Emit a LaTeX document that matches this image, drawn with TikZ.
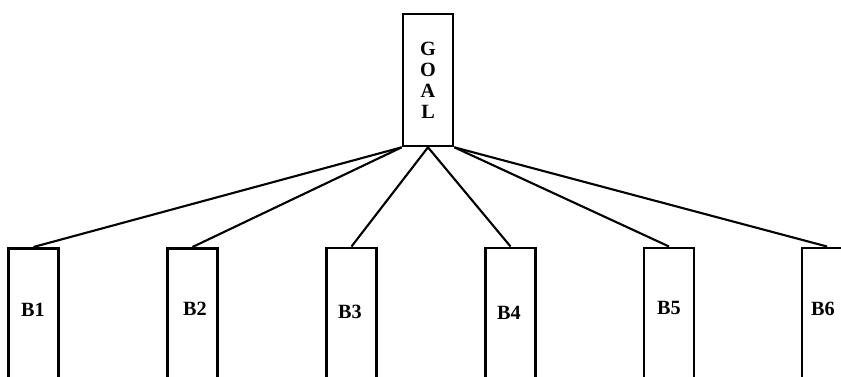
\documentclass[tikz,border=0pt]{standalone}
\usepackage{fontspec}
\setmainfont{Liberation Serif}
\begin{document}
\begin{tikzpicture}[x=0.02cm,y=-0.02cm,
  boxnode/.style={draw=black, line width=1.5pt, rectangle, minimum width=1cm, inner sep=0pt},
  leaf/.style={boxnode, minimum height=3cm},
  lbl/.style={font=\fontsize{11.5}{13}\selectfont\bfseries, inner sep=0pt},
  link/.style={draw=black, line width=1.2pt}]
\useasboundingbox (0,0) rectangle (841,376);
\clip (0,0) rectangle (841,376);
\fill[white] (0,0) rectangle (841,376);
\node[boxnode, minimum height=2.64cm] (goal) at (428,80) {};
\node[lbl, align=center, font=\fontsize{11.5}{12}\selectfont\bfseries] (goaltxt) at (428,80) {G\\O\\A\\L};
\node[leaf, anchor=north] (b1) at (33.5,247) {};
\node[leaf, anchor=north] (b2) at (192.5,247) {};
\node[leaf, anchor=north] (b3) at (351.5,246.5) {};
\node[leaf, anchor=north] (b4) at (510.5,246.5) {};
\node[leaf, anchor=north] (b5) at (669,246.5) {};
\node[leaf, anchor=north] (b6) at (827,246.5) {};
\node[lbl] (l1) at (33,310) {B1};
\node[lbl] (l2) at (195,309) {B2};
\node[lbl] (l3) at (350,312) {B3};
\node[lbl] (l4) at (509,313) {B4};
\node[lbl] (l5) at (669,308) {B5};
\node[lbl] (l6) at (823,309) {B6};
\draw[link] (goal.south west) -- (b1.north);
\draw[link] (goal.south west) -- (b2.north);
\draw[link] (goal.south) -- (b3.north);
\draw[link] (goal.south) -- (b4.north);
\draw[link] (goal.south east) -- (b5.north);
\draw[link] (goal.south east) -- (b6.north);
\end{tikzpicture}
\end{document}
